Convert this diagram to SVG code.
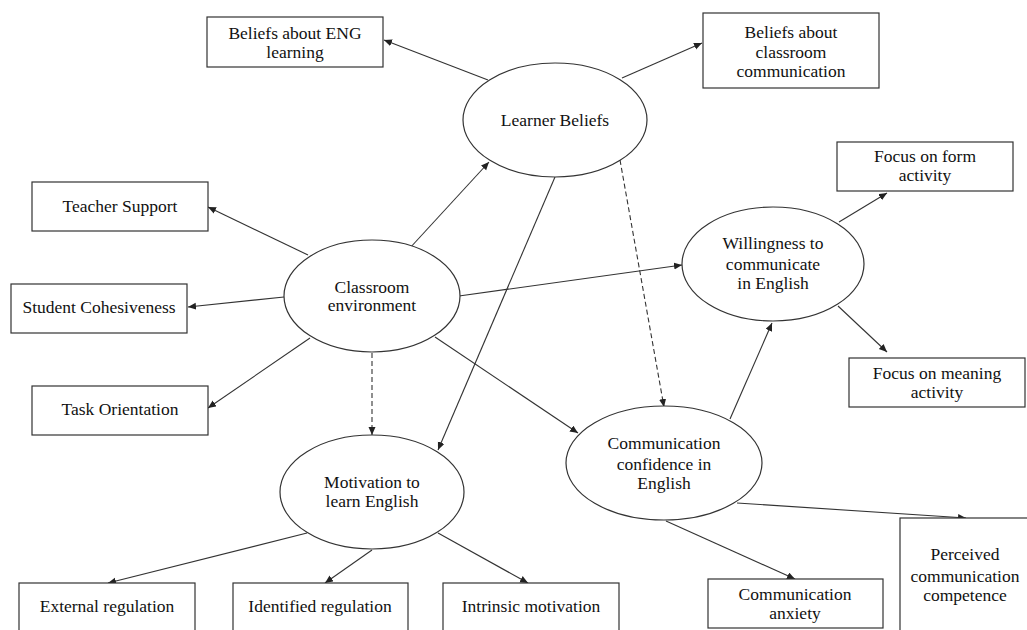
<svg xmlns="http://www.w3.org/2000/svg" width="1027" height="630" viewBox="0 0 1027 630">
  <style>
    .box { fill: #fff; stroke: #333; stroke-width: 1.2; }
    .oval { fill: #fff; stroke: #333; stroke-width: 1.2; }
    .lbl { font-family: "Liberation Serif", "Times New Roman", serif; font-size: 17.5px; fill: #111; text-anchor: middle; }
    .edge { stroke: #333; stroke-width: 1.1; fill: none; marker-end: url(#arrow); }
    .dash { stroke-dasharray: 5 3; }
  </style>
  <defs>
    <marker id="arrow" markerUnits="userSpaceOnUse" markerWidth="10" markerHeight="8" refX="8" refY="3.5" orient="auto">
      <path d="M0,0 L8,3.5 L0,7 Z" fill="#222"/>
    </marker>
  </defs>
  <rect width="1027" height="630" fill="#fff"/>

  <!-- connectors -->
  <g id="connectors">
    <line class="edge" x1="488" y1="80" x2="384" y2="40"/>
    <line class="edge" x1="622" y1="78" x2="702" y2="43"/>
    <line class="edge" x1="308" y1="255" x2="208" y2="207"/>
    <line class="edge" x1="284" y1="297" x2="188" y2="307"/>
    <line class="edge" x1="310" y1="338" x2="208" y2="408"/>
    <line class="edge" x1="409" y1="249" x2="489" y2="162"/>
    <line class="edge dash" x1="372" y1="353" x2="372" y2="435"/>
    <line class="edge" x1="459" y1="296" x2="682" y2="265"/>
    <line class="edge" x1="435" y1="337" x2="578" y2="433"/>
    <line class="edge" x1="555" y1="177" x2="438" y2="450"/>
    <line class="edge dash" x1="620" y1="160" x2="664" y2="407"/>
    <line class="edge" x1="839" y1="222" x2="887" y2="193"/>
    <line class="edge" x1="838" y1="306" x2="887" y2="352"/>
    <line class="edge" x1="730" y1="419" x2="772" y2="323"/>
    <line class="edge" x1="737" y1="503" x2="966" y2="518"/>
    <line class="edge" x1="666" y1="521" x2="795" y2="579"/>
    <line class="edge" x1="307" y1="533" x2="108" y2="583"/>
    <line class="edge" x1="372" y1="550" x2="325" y2="583"/>
    <line class="edge" x1="438" y1="533" x2="528" y2="583"/>
  </g>

  <!-- latent constructs -->
  <g id="learner-beliefs">
    <ellipse class="oval" cx="555" cy="120" rx="92" ry="57"/>
    <text class="lbl" x="555" y="126">Learner Beliefs</text>
  </g>
  <g id="classroom-environment">
    <ellipse class="oval" cx="372" cy="296" rx="88" ry="56"/>
    <text class="lbl" x="372" y="293">Classroom</text>
    <text class="lbl" x="372" y="311">environment</text>
  </g>
  <g id="willingness">
    <ellipse class="oval" cx="773" cy="264" rx="91" ry="57"/>
    <text class="lbl" x="773" y="249">Willingness to</text>
    <text class="lbl" x="773" y="270">communicate</text>
    <text class="lbl" x="773" y="289">in English</text>
  </g>
  <g id="motivation">
    <ellipse class="oval" cx="372" cy="492" rx="92" ry="57"/>
    <text class="lbl" x="372" y="488">Motivation to</text>
    <text class="lbl" x="372" y="507">learn English</text>
  </g>
  <g id="communication-confidence">
    <ellipse class="oval" cx="664" cy="463" rx="98" ry="57"/>
    <text class="lbl" x="664" y="449">Communication</text>
    <text class="lbl" x="664" y="470">confidence in</text>
    <text class="lbl" x="664" y="489">English</text>
  </g>

  <!-- indicators -->
  <g id="beliefs-eng">
    <rect class="box" x="207" y="17" width="176" height="50"/>
    <text class="lbl" x="295" y="39">Beliefs about ENG</text>
    <text class="lbl" x="295" y="58">learning</text>
  </g>
  <g id="beliefs-classroom">
    <rect class="box" x="703" y="13" width="176" height="75"/>
    <text class="lbl" x="791" y="38">Beliefs about</text>
    <text class="lbl" x="791" y="58">classroom</text>
    <text class="lbl" x="791" y="77">communication</text>
  </g>
  <g id="teacher-support">
    <rect class="box" x="32" y="182" width="176" height="49"/>
    <text class="lbl" x="120" y="212">Teacher Support</text>
  </g>
  <g id="student-cohesiveness">
    <rect class="box" x="11" y="284" width="176" height="49"/>
    <text class="lbl" x="99" y="313">Student Cohesiveness</text>
  </g>
  <g id="task-orientation">
    <rect class="box" x="32" y="386" width="176" height="49"/>
    <text class="lbl" x="120" y="415">Task Orientation</text>
  </g>
  <g id="focus-form">
    <rect class="box" x="837" y="142" width="176" height="49"/>
    <text class="lbl" x="925" y="162">Focus on form</text>
    <text class="lbl" x="925" y="181">activity</text>
  </g>
  <g id="focus-meaning">
    <rect class="box" x="849" y="358" width="176" height="49"/>
    <text class="lbl" x="937" y="379">Focus on meaning</text>
    <text class="lbl" x="937" y="398">activity</text>
  </g>
  <g id="external-regulation">
    <rect class="box" x="19" y="583" width="176" height="60"/>
    <text class="lbl" x="107" y="612">External regulation</text>
  </g>
  <g id="identified-regulation">
    <rect class="box" x="233" y="583" width="175" height="60"/>
    <text class="lbl" x="320" y="612">Identified regulation</text>
  </g>
  <g id="intrinsic-motivation">
    <rect class="box" x="443" y="583" width="176" height="60"/>
    <text class="lbl" x="531" y="612">Intrinsic motivation</text>
  </g>
  <g id="communication-anxiety">
    <rect class="box" x="708" y="579" width="175" height="49"/>
    <text class="lbl" x="795" y="600">Communication</text>
    <text class="lbl" x="795" y="619">anxiety</text>
  </g>
  <g id="perceived-competence">
    <rect class="box" x="900" y="518" width="140" height="130"/>
    <text class="lbl" x="965" y="560">Perceived</text>
    <text class="lbl" x="965" y="582">communication</text>
    <text class="lbl" x="965" y="601">competence</text>
  </g>
</svg>
